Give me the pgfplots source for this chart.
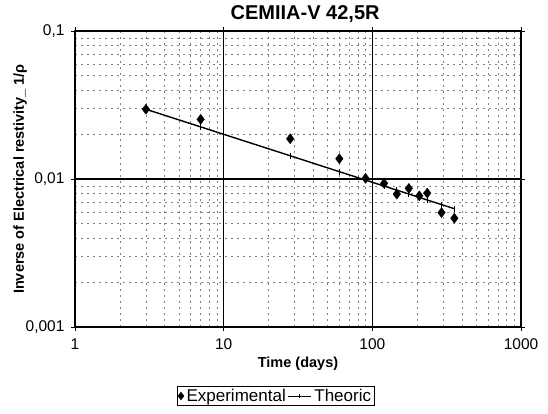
\documentclass[border=0pt]{standalone}
\usepackage{fontspec}
\setmainfont{Liberation Sans}
\usepackage{pgfplots}
\pgfplotsset{compat=1.18}

\begin{document}
\begin{tikzpicture}
  \begin{axis}[
    xmode=log, ymode=log,
    width=446pt, height=296pt, scale only axis,
    xmin=1, xmax=1000, ymin=0.001, ymax=0.1,
    xtick={1,10,100,1000}, xticklabels={1,10,100,1000},
    ytick={0.001,0.01,0.1}, yticklabels={{0,001},{0,01},{0,1}},
    /pgf/number format/assume math mode=true,
    tick label style={font=\fontsize{15.5}{15.5}\selectfont, black},
    xticklabel style={yshift=-4pt},
    yticklabel style={xshift=-3pt},
    tick align=outside, major tick length=4pt, minor tick length=0pt,
    tick style={black, line width=0.8pt},
    axis line style={black, line width=1.3pt},
    xmajorgrids, ymajorgrids, xminorgrids, yminorgrids,
    major grid style={black, line width=1.1pt},
    minor grid style={black!50, line width=0.45pt, dash pattern=on 2pt off 4pt},
    title={\bfseries CEMIIA-V 42,5R},
    title style={font=\fontsize{20}{20}\selectfont, at={(axis description cs:0.516,1.037)}, anchor=center},
    xlabel={\bfseries Time (days)},
    xlabel style={font=\fontsize{14.5}{14.5}\selectfont, at={(axis description cs:0.5,-0.125)}, anchor=center},
    ylabel={\bfseries Inverse of Electrical restivity\_ 1/ρ},
    ylabel style={font=\fontsize{14.5}{14.5}\selectfont, at={(axis description cs:-0.123,0.5)}, anchor=center},
    legend columns=2,
    legend style={at={(axis description cs:0.45,-0.233)}, anchor=center,
      draw=black, line width=1pt, font=\fontsize{17}{17}\selectfont,
      inner sep=1pt, column sep=1pt,
      /tikz/every even column/.append style={column sep=0pt}},
  ]
    \addplot[only marks, mark=diamond*, mark size=5pt, black,
      legend image code/.code={\draw[fill=black] plot[mark=diamond*, mark size=3.5pt] coordinates {(0.15cm,0cm)};}]
      coordinates {
        (3,0.0296)(7,0.0253)(28,0.0187)(60,0.0137)(90,0.0101)(120,0.00935)
        (146,0.0079)(176,0.00864)(207,0.0077)(234,0.00803)(292,0.00593)(356,0.00543)
      };
    \addlegendentry{Experimental}
    \addplot[black, line width=1.4pt, mark=|, mark size=3pt,
      mark options={line width=0.8pt},
      legend image code/.code={\draw[line width=0.8pt] (-0.05cm,0cm) -- (0.75cm,0cm); \draw[line width=0.8pt] (0.35cm,-2.5pt) -- (0.35cm,2pt);}]
      coordinates {
        (3,0.0296)(7,0.0225)(28,0.01436)(60,0.01121)(90,0.00983)(120,0.00896)
        (146,0.00841)(176,0.00792)(207,0.00751)(234,0.00721)(292,0.00672)(356,0.0063)
      };
    \addlegendentry{Theoric}
  \end{axis}
  \path (current axis.south west) ++(-75pt,-87pt) rectangle ++(548pt,414pt);
\end{tikzpicture}
\end{document}
